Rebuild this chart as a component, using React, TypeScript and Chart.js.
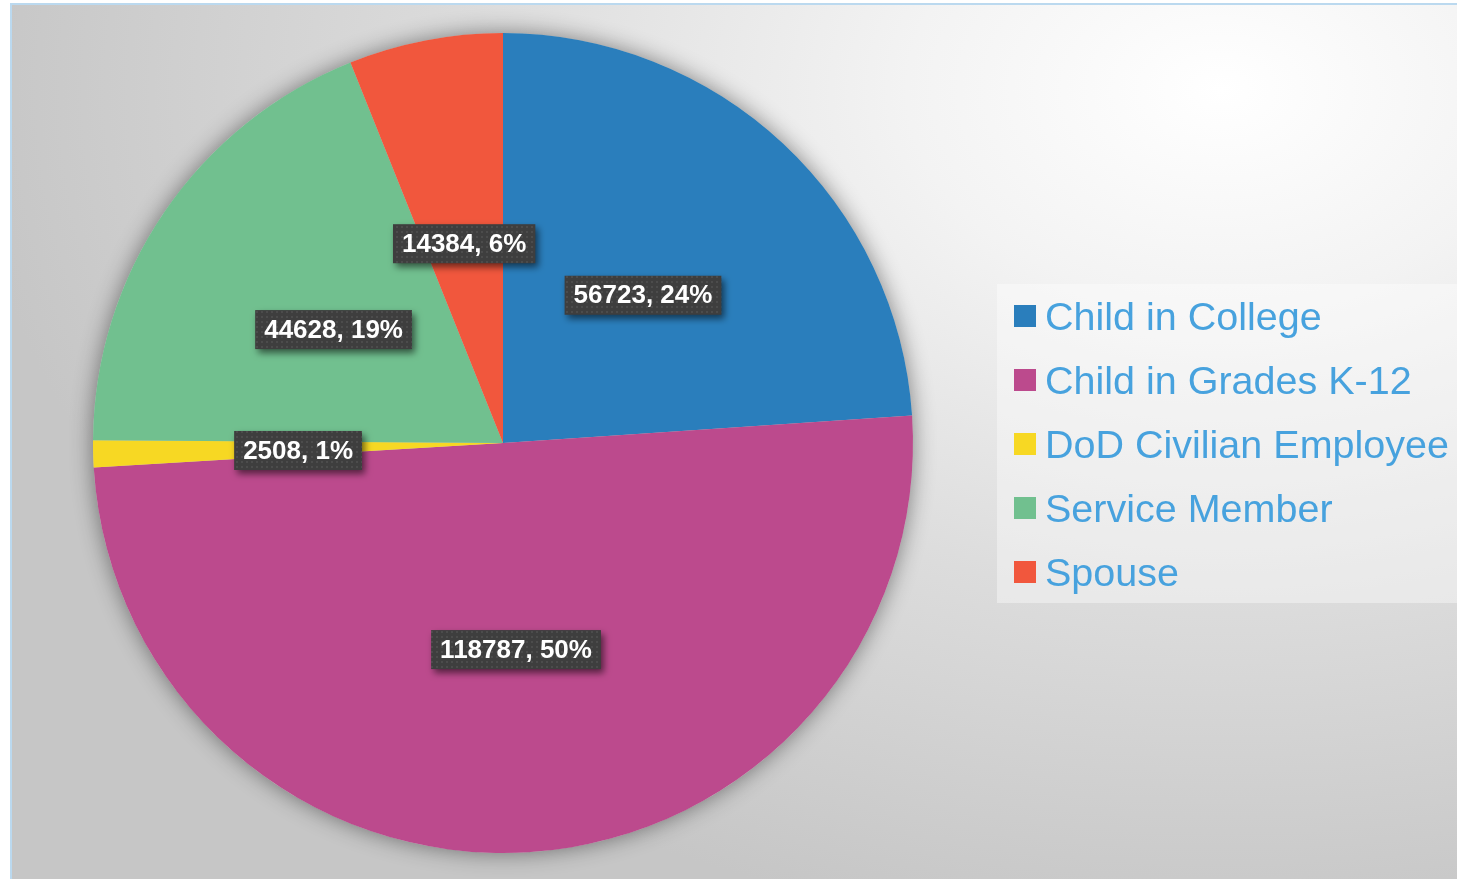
import React, { useEffect, useRef } from "react";
import { Chart, registerables } from "chart.js";

Chart.register(...registerables);

const categories = [
  "Child in College",
  "Child in Grades K-12",
  "DoD Civilian Employee",
  "Service Member",
  "Spouse",
];
const counts = [56723, 118787, 2508, 44628, 14384];
const sliceColors = ["#2A7EBC", "#BC4A8D", "#F7D823", "#71C08F", "#F1573D"];

const W = 1457;
const H = 879;

const backgroundPlugin = {
  id: "bgFrame",
  beforeDraw(chart: any) {
    const ctx = chart.ctx;
    ctx.save();
    ctx.fillStyle = "#ffffff";
    ctx.fillRect(0, 0, W, H);
    ctx.save();
    ctx.beginPath();
    ctx.rect(11, 4, W - 11, H - 4);
    ctx.clip();
    const cx = 1220, cy = 90;
    const sy = 0.68;
    ctx.translate(cx, cy);
    ctx.scale(1, sy);
    const g = ctx.createRadialGradient(0, 0, 0, 0, 0, 1250);
    g.addColorStop(0, "#ffffff");
    g.addColorStop(0.25, "#f3f3f3");
    g.addColorStop(0.6, "#dcdcdc");
    g.addColorStop(1, "#c6c6c6");
    ctx.fillStyle = g;
    ctx.fillRect(-cx - 10, -cy / sy - 10, W + 20, H / sy + 20);
    ctx.restore();
    ctx.strokeStyle = "#BBD9EF";
    ctx.lineWidth = 2;
    ctx.beginPath();
    ctx.moveTo(W + 2, 4);
    ctx.lineTo(11, 4);
    ctx.lineTo(11, H + 2);
    ctx.stroke();
    ctx.restore();
  },
  beforeDatasetsDraw(chart: any) {
    const arc = chart.getDatasetMeta(0).data[0];
    if (!arc) return;
    const ctx = chart.ctx;
    ctx.save();
    ctx.shadowColor = "rgba(0,0,0,0.45)";
    ctx.shadowBlur = 22;
    ctx.fillStyle = "#cccccc";
    ctx.beginPath();
    ctx.arc(arc.x, arc.y, arc.outerRadius, 0, Math.PI * 2);
    ctx.fill();
    ctx.restore();
  },
};

function makeDotPattern(ctx: CanvasRenderingContext2D) {
  const c = document.createElement("canvas");
  c.width = 5;
  c.height = 5;
  const p = c.getContext("2d")!;
  p.fillStyle = "#3e3e3e";
  p.fillRect(0, 0, 5, 5);
  p.fillStyle = "#4c4c4c";
  p.fillRect(1, 1, 2, 2);
  return ctx.createPattern(c, "repeat");
}

const labelPlugin = {
  id: "sliceLabels",
  afterDatasetsDraw(chart: any) {
    const ctx = chart.ctx;
    const meta = chart.getDatasetMeta(0);
    const data = chart.data.datasets[0].data as number[];
    const total = data.reduce((a, b) => a + b, 0);
    const pattern = makeDotPattern(ctx);
    ctx.save();
    ctx.font = "bold 26px 'Liberation Sans', Arial, sans-serif";
    meta.data.forEach((arc: any, i: number) => {
      const pos = arc.tooltipPosition();
      const py = pos.y + 2;
      const text = `${data[i]}, ${Math.round((data[i] / total) * 100)}%`;
      const tw = ctx.measureText(text).width;
      const bw = tw + 18;
      const bh = 39;
      const x0 = pos.x - bw / 2;
      const y0 = py - bh / 2;
      ctx.save();
      ctx.shadowColor = "rgba(0,0,0,0.55)";
      ctx.shadowBlur = 7;
      ctx.shadowOffsetX = 3;
      ctx.shadowOffsetY = 4;
      ctx.fillStyle = pattern || "#404040";
      ctx.fillRect(x0, y0, bw, bh);
      ctx.restore();
      ctx.fillStyle = "#ffffff";
      ctx.textAlign = "center";
      ctx.textBaseline = "middle";
      ctx.fillText(text, pos.x, py + 1);
    });
    ctx.restore();
  },
};

const legendPlugin = {
  id: "customLegend",
  afterDraw(chart: any) {
    const ctx = chart.ctx;
    const colors = chart.data.datasets[0].backgroundColor as string[];
    const labels = chart.data.labels as string[];
    ctx.save();
    ctx.fillStyle = "rgba(255,255,255,0.38)";
    ctx.fillRect(997, 284, W - 997, 319);
    ctx.font = "39.5px 'Liberation Sans', Arial, sans-serif";
    ctx.textAlign = "left";
    ctx.textBaseline = "alphabetic";
    labels.forEach((lab, i) => {
      const cy = 316 + i * 64;
      ctx.fillStyle = colors[i];
      ctx.fillRect(1014, cy - 11, 22, 22);
      ctx.fillStyle = "#47A2DE";
      ctx.fillText(lab, 1045, cy + 14);
    });
    ctx.restore();
  },
};

export default function App() {
  const ref = useRef<HTMLCanvasElement>(null);
  useEffect(() => {
    document.body.style.margin = "0";
    const chart = new Chart(ref.current!, {
      type: "pie",
      data: {
        labels: categories,
        datasets: [
          {
            data: counts,
            backgroundColor: sliceColors,
            borderWidth: 0,
          },
        ],
      },
      options: {
        responsive: false,
        animation: false,
        layout: { padding: { left: 93, top: 33, right: W - 913, bottom: H - 853 } },
        plugins: {
          legend: { display: false },
          tooltip: { enabled: false },
        },
      },
      plugins: [backgroundPlugin, labelPlugin, legendPlugin],
    });
    return () => chart.destroy();
  }, []);
  return (
    <div style={{ width: W, height: H }}>
      <canvas ref={ref} width={W} height={H} style={{ display: "block" }} />
    </div>
  );
}
